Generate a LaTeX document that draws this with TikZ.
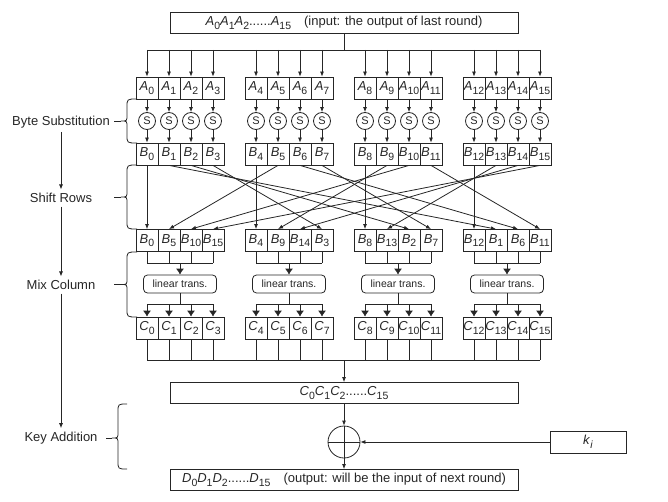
\documentclass[tikz,border=0pt]{standalone}
\usepackage{fontspec}
\setmainfont{Liberation Sans}
\usepackage{tikz}
\usetikzlibrary{arrows.meta}

\newcommand{\sv}[2]{\textit{#1}\raisebox{-3.5pt}{\fontsize{10.5}{11}\selectfont #2}}
\tikzset{
  cell/.style={draw,minimum width=22pt,minimum height=22pt,inner sep=0pt},
  sbox/.style={draw,circle,minimum size=17pt,inner sep=0pt,font=\fontsize{11}{12}\selectfont},
  ltbox/.style={draw,rounded corners=4pt,minimum width=73pt,minimum height=18pt,inner sep=0pt,font=\fontsize{10.5}{12}\selectfont},
  wide/.style={draw,minimum width=348pt,minimum height=21pt,inner sep=0pt},
  arr/.style={-{Latex[length=5pt,width=4pt]}},
  arrb/.style={-{Latex[length=6pt,width=8pt]}},
}

\begin{document}
\begin{tikzpicture}[x=1pt,y=-1pt,font=\fontsize{13}{15}\selectfont,line width=0.8pt,color=black!85]
\useasboundingbox (0,0) rectangle (668,502);

% input block
\node[wide] (inp) at (344,23) {\sv{A}{0}\sv{A}{1}\sv{A}{2}......\sv{A}{15}\quad(input: the output of last round)};

% the four columns of bytes
\foreach \g in {0,...,3}
  \foreach \j in {0,...,3} {
    \pgfmathtruncatemacro\k{4*\g+\j}
    \pgfmathtruncatemacro\m{mod(4*\g+5*\j,16)}
    \pgfmathsetmacro\xc{147+109*\g+22*\j}
    \node[cell] (a\k) at (\xc,88) {\sv{A}{\k}};
    \node[sbox] (s\k) at (\xc,121) {S};
    \node[cell] (b\k) at (\xc,154) {\sv{B}{\k}};
    \node[cell,alias=p\g\j] (bb\m) at (\xc,240.5) {\sv{B}{\m}};
    \node[cell] (c\k) at (\xc,328) {\sv{C}{\k}};
  }

% fan out of the input
\coordinate (busA) at (344,50);
\draw (inp.south) -- (busA);
\draw (a0.north |- busA) -- (a15.north |- busA);
\foreach \k in {0,...,15} {
  \draw[arr] (a\k.north |- busA) -- (a\k.north);
  \draw[arr] (a\k) -- (s\k);
  \draw[arr] (s\k) -- (b\k);
  \draw[arr] (b\k.south) -- (bb\k.north);
}

% mix column
\foreach \g in {0,...,3} {
  \pgfmathtruncatemacro\kf{4*\g}
  \pgfmathtruncatemacro\kl{4*\g+3}
  \node[ltbox] (lt\g) at ({180+109*\g},284) {linear trans.};
  \coordinate (mu\g) at ({180+109*\g},263);
  \coordinate (md\g) at ({180+109*\g},304);
  \draw (p\g0.south |- mu\g) -- (p\g3.south |- mu\g);
  \foreach \j in {0,...,3}
    \draw (p\g\j.south) -- (p\g\j.south |- mu\g);
  \draw[arrb] (mu\g) -- (lt\g.north);
  \draw (lt\g.south) -- (md\g);
  \draw (c\kf.north |- md\g) -- (c\kl.north |- md\g);
  \foreach \k in {\kf,...,\kl}
    \draw[arrb] (c\k.north |- md\g) -- (c\k.north);
}

% collect the columns
\coordinate (busC) at (344,360);
\foreach \k in {0,...,15}
  \draw (c\k.south) -- (c\k.south |- busC);
\draw (c0.south |- busC) -- (c15.south |- busC);
\node[wide] (sum) at (344,393) {\sv{C}{0}\sv{C}{1}\sv{C}{2}......\sv{C}{15}};
\draw[arr] (busC) -- (sum.north);

% key addition
\node[draw,circle,minimum size=32pt,inner sep=0pt] (xor) at (344,442) {};
\draw (xor.west) -- (xor.east);
\draw (xor.north) -- (xor.south);
\node[draw,minimum width=76pt,minimum height=22pt] (key) at (588,442) {\sv{k}{\textit{i}}};
\node[wide] (out) at (344,480) {\sv{D}{0}\sv{D}{1}\sv{D}{2}......\sv{D}{15}\quad(output: will be the input of next round)};
\draw[arr] (sum.south) -- (xor.north);
\draw[arr] (key.west) -- (xor.east);
\draw[arr] (xor.south) -- (out.north);

% stage labels
\node (lbs) at (61,122) {Byte Substitution};
\node (lsr) at (61,198) {Shift Rows};
\node (lmc) at (61,285) {Mix Column};
\node (lka) at (61,438) {Key Addition};
\draw[arr] (lbs) -- (lsr);
\draw[arr] (lsr) -- (lmc);
\draw[arr] (lmc) -- (lka);

% braces
\foreach \t/\b in {99/143,165/229,252/317} {
  \pgfmathsetmacro\mm{(\t+\b)/2}
  \draw (137,\t) .. controls (127,\t) .. (127,\t+8) -- (127,\mm-6)
    .. controls (127,\mm) .. (121,\mm) .. controls (127,\mm) .. (127,\mm+6)
    -- (127,\b-8) .. controls (127,\b) .. (137,\b);
  \draw (121,\mm) -- (114,\mm);
}
\draw (127,404) .. controls (118,404) .. (118,412) -- (118,432)
  .. controls (118,438) .. (112,438) .. controls (118,438) .. (118,444)
  -- (118,461) .. controls (118,469) .. (127,469);
\draw (112,438) -- (106,438);
\end{tikzpicture}
\end{document}
